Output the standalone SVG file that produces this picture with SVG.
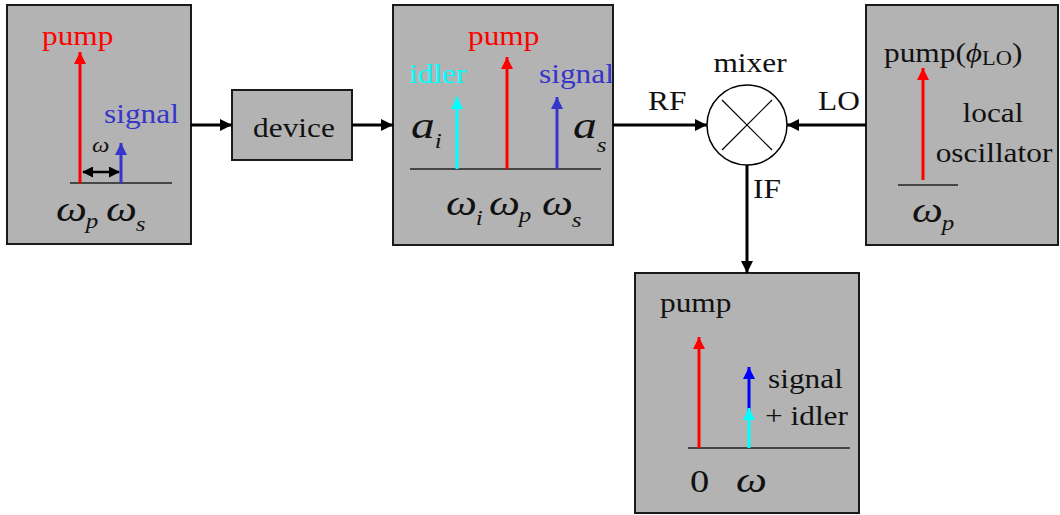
<svg xmlns="http://www.w3.org/2000/svg" width="1060" height="515" viewBox="0 0 1060 515" font-family="'Liberation Serif', 'Times New Roman', serif">
<defs>
<style>
.box{fill:#b3b3b3;stroke:#1a1a1a;stroke-width:2}
.axis{stroke:#222;stroke-width:1.5}
.conn{stroke:#000;stroke-width:3;fill:none}
.lbl{font-size:28px;fill:#111}
.it{font-style:italic;fill:#111}
</style>
<marker id="ak" viewBox="0 0 12 12" refX="12" refY="6" markerWidth="12" markerHeight="12" markerUnits="userSpaceOnUse" orient="auto"><path d="M0,0L12,6L0,12Z" fill="#000"/></marker>
<marker id="ar" viewBox="0 0 12 12" refX="12" refY="6" markerWidth="12" markerHeight="12" markerUnits="userSpaceOnUse" orient="auto"><path d="M0,0L12,6L0,12Z" fill="#ff0000"/></marker>
<marker id="ab" viewBox="0 0 12 12" refX="12" refY="6" markerWidth="12" markerHeight="12" markerUnits="userSpaceOnUse" orient="auto"><path d="M0,0L12,6L0,12Z" fill="#3535cc"/></marker>
<marker id="ab2" viewBox="0 0 12 12" refX="12" refY="6" markerWidth="12" markerHeight="12" markerUnits="userSpaceOnUse" orient="auto"><path d="M0,0L12,6L0,12Z" fill="#0000ff"/></marker>
<marker id="ac" viewBox="0 0 12 12" refX="12" refY="6" markerWidth="12" markerHeight="12" markerUnits="userSpaceOnUse" orient="auto"><path d="M0,0L12,6L0,12Z" fill="#00ffff"/></marker>
<marker id="aks" viewBox="0 0 12 12" refX="11" refY="6" markerWidth="11" markerHeight="11" markerUnits="userSpaceOnUse" orient="auto-start-reverse"><path d="M0,0L12,6L0,12Z" fill="#000"/></marker>
</defs>

<g id="input">
<rect class="box" x="7" y="5" width="184" height="239"/>
<line class="axis" x1="70" y1="183" x2="172" y2="183"/>
<line x1="80" y1="183" x2="80" y2="52" stroke="#ff0000" stroke-width="3" marker-end="url(#ar)"/>
<line x1="121" y1="183" x2="121" y2="143" stroke="#3535cc" stroke-width="3" marker-end="url(#ab)"/>
<line x1="83" y1="172" x2="119" y2="172" stroke="#000" stroke-width="2.5" marker-start="url(#aks)" marker-end="url(#aks)"/>
<text class="lbl" transform="translate(42,45) scale(1.12,1)" style="fill:#ff0000">pump</text>
<text class="lbl" transform="translate(104,123) scale(1.12,1)" style="fill:#3535cc">signal</text>
<text class="it" transform="translate(92,152) scale(1.12,1)" font-size="22">ω</text>
<text class="it" transform="translate(56,221) scale(1.25,1)" font-size="35">ω<tspan dx="-1" dy="7" font-size="20">p</tspan></text>
<text class="it" transform="translate(106,221) scale(1.25,1)" font-size="35">ω<tspan dx="-1" dy="10" font-size="20">s</tspan></text>
</g>

<g id="device">
<rect class="box" x="232" y="90" width="120" height="70"/>
<text class="lbl" transform="translate(294,137) scale(1.12,1)" text-anchor="middle">device</text>
</g>

<g id="output">
<rect class="box" x="393" y="5" width="220" height="240"/>
<line class="axis" x1="410" y1="169" x2="601" y2="169"/>
<line x1="457" y1="169" x2="457" y2="97" stroke="#00ffff" stroke-width="3" marker-end="url(#ac)"/>
<line x1="507" y1="169" x2="507" y2="57" stroke="#ff0000" stroke-width="3" marker-end="url(#ar)"/>
<line x1="557" y1="169" x2="557" y2="97" stroke="#3535cc" stroke-width="3" marker-end="url(#ab)"/>
<text class="lbl" transform="translate(468,45) scale(1.12,1)" style="fill:#ff0000">pump</text>
<text class="lbl" transform="translate(409,83) scale(1.12,1)" style="fill:#00ffff">idler</text>
<text class="lbl" transform="translate(539,83) scale(1.12,1)" style="fill:#3535cc">signal</text>
<text class="it" transform="translate(411,138) scale(1.25,1)" font-size="38">a<tspan dy="10" font-size="20">i</tspan></text>
<text class="it" transform="translate(573,138) scale(1.25,1)" font-size="38">a<tspan dy="14" font-size="20">s</tspan></text>
<text class="it" transform="translate(446,215) scale(1.25,1)" font-size="35">ω<tspan dx="-1" dy="10" font-size="20">i</tspan></text>
<text class="it" transform="translate(489,215) scale(1.25,1)" font-size="35">ω<tspan dx="-1" dy="7" font-size="20">p</tspan></text>
<text class="it" transform="translate(542,215) scale(1.25,1)" font-size="35">ω<tspan dx="-1" dy="12" font-size="20">s</tspan></text>
</g>

<g id="mixer">
<circle cx="747" cy="125" r="40" fill="#fff" stroke="#000" stroke-width="1.5"/>
<line x1="722" y1="100" x2="772" y2="150" stroke="#000" stroke-width="1.2"/>
<line x1="772" y1="100" x2="722" y2="150" stroke="#000" stroke-width="1.2"/>
<text class="lbl" transform="translate(750,72) scale(1.12,1)" text-anchor="middle">mixer</text>
</g>

<g id="lo">
<rect class="box" x="866" y="5" width="192" height="240"/>
<line class="axis" x1="898" y1="185" x2="958" y2="185"/>
<line x1="923" y1="180" x2="923" y2="68" stroke="#ff0000" stroke-width="3" marker-end="url(#ar)"/>
<text class="lbl" transform="translate(884,62) scale(1.12,1)">pump(<tspan font-style="italic">ϕ</tspan><tspan font-size="20" dy="3">LO</tspan><tspan dy="-3">)</tspan></text>
<text class="lbl" transform="translate(993,122) scale(1.12,1)" text-anchor="middle">local</text>
<text class="lbl" transform="translate(994,162) scale(1.12,1)" text-anchor="middle">oscillator</text>
<text class="it" transform="translate(912,222) scale(1.25,1)" font-size="35">ω<tspan dx="-1" dy="8" font-size="20">p</tspan></text>
</g>

<g id="if-out">
<rect class="box" x="635" y="273" width="224" height="240"/>
<line class="axis" x1="688" y1="448" x2="850" y2="448"/>
<line x1="699" y1="448" x2="699" y2="337" stroke="#ff0000" stroke-width="3" marker-end="url(#ar)"/>
<line x1="749" y1="415" x2="749" y2="367" stroke="#0000ff" stroke-width="3" marker-end="url(#ab2)"/>
<line x1="749" y1="448" x2="749" y2="408" stroke="#00ffff" stroke-width="3" marker-end="url(#ac)"/>
<text class="lbl" transform="translate(660,312) scale(1.12,1)">pump</text>
<text class="lbl" transform="translate(768,388) scale(1.12,1)">signal</text>
<text class="lbl" transform="translate(765,425) scale(1.12,1)">+ idler</text>
<text transform="translate(690,492) scale(1.2,1)" font-size="32" fill="#111">0</text>
<text class="it" transform="translate(736,492) scale(1.25,1)" font-size="35">ω</text>
</g>

<g id="connectors">
<line class="conn" x1="191" y1="125" x2="232" y2="125" marker-end="url(#ak)"/>
<line class="conn" x1="352" y1="125" x2="393" y2="125" marker-end="url(#ak)"/>
<line class="conn" x1="613" y1="125" x2="707" y2="125" marker-end="url(#ak)"/>
<line class="conn" x1="866" y1="125" x2="787" y2="125" marker-end="url(#ak)"/>
<line class="conn" x1="747" y1="165" x2="747" y2="273" marker-end="url(#ak)"/>
<text class="lbl" transform="translate(648,110) scale(1.12,1)">RF</text>
<text class="lbl" transform="translate(818,110) scale(1.12,1)">LO</text>
<text class="lbl" transform="translate(753,198) scale(1.12,1)">IF</text>
</g>
</svg>
